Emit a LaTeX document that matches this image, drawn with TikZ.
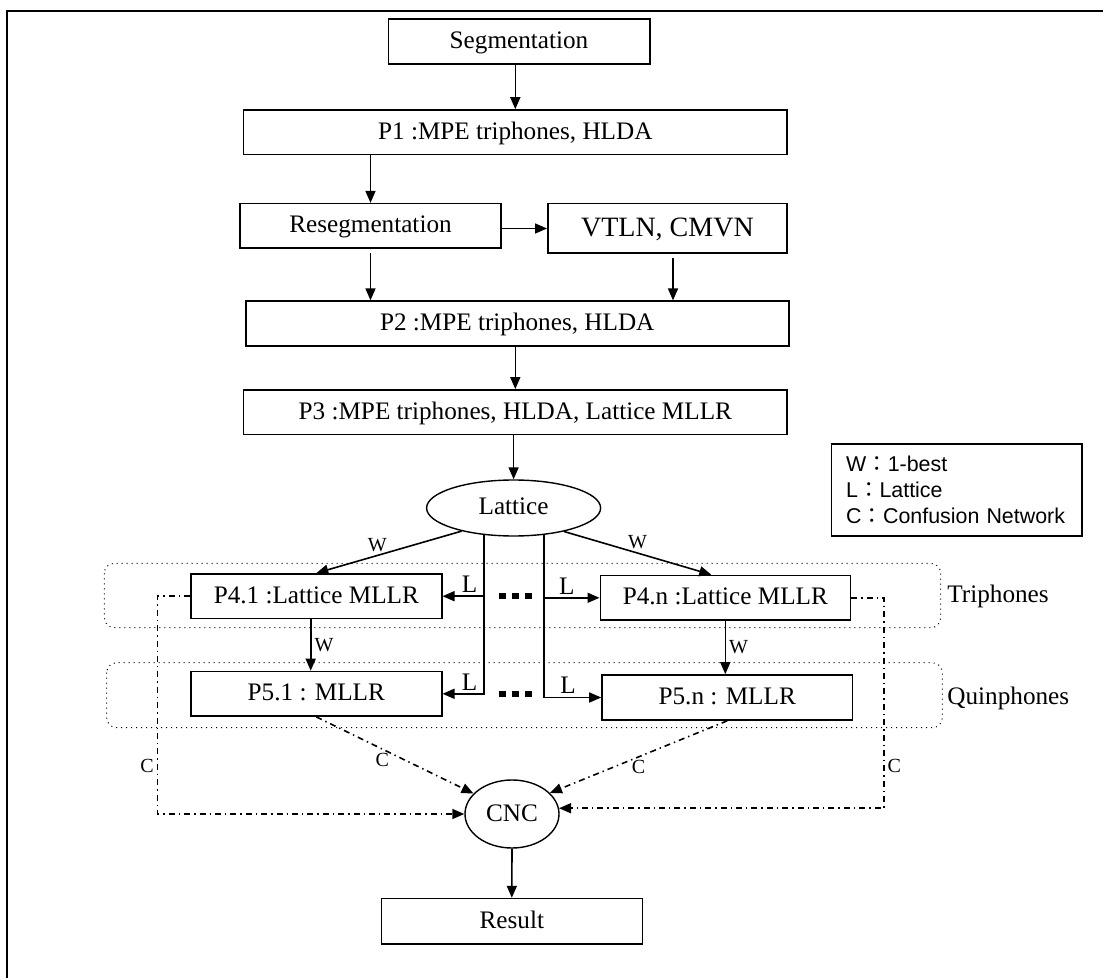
\documentclass[tikz,border=0pt]{standalone}
\usepackage{fontspec}
\setmainfont{Liberation Serif}
\setsansfont{Liberation Sans}
\newfontfamily\cjk{Noto Sans CJK TC}
\usetikzlibrary{shapes.geometric,arrows.meta}
\newcommand{\bigdots}{\rule{3.3pt}{3.3pt}\hspace{3.3pt}\rule{3.3pt}{3.3pt}\hspace{3.3pt}\rule{3.3pt}{3.3pt}}
\newcommand{\fwcolon}{{\cjk ：}}

\begin{document}
\begin{tikzpicture}[x=0.5pt,y=-0.5pt,
  >={Triangle[length=6pt,width=5pt]},
  every node/.style={font=\fontsize{12.6}{15}\selectfont},
  stage/.style={draw,line width=0.8pt,inner sep=0pt,minimum height=22.3pt,text height=8.4pt,text depth=1.4pt},
  oval/.style={draw,ellipse,line width=0.7pt,inner sep=0pt,text height=8.4pt,text depth=1.4pt},
  grp/.style={draw,dotted,rounded corners=5pt,line width=0.5pt},
  flow/.style={line width=0.8pt,->},
  cline/.style={line width=0.8pt,dash pattern=on 3pt off 2pt on 0.7pt off 2pt},
  tag/.style={font=\fontsize{10}{12}\selectfont,inner sep=1.5pt},
  lbl/.style={inner sep=1.5pt}]
\useasboundingbox (0,0) rectangle (1103,978);
\draw[line width=0.9pt] (6.7,978) -- (6.7,10.7) -- (1103,10.7);
\draw[grp] (104.3,563.3) rectangle (940.7,627.7);
\draw[grp] (106.7,662.7) rectangle (942.3,727.7);
\node (seg) [stage,minimum width=130.7pt,minimum height=22.5pt] at (519,41.8) {Segmentation};
\node (p1) [stage,minimum width=271.7pt] at (515.3,132.3) {P1 :MPE triphones, HLDA};
\node (reseg) [stage,minimum width=130.5pt] at (370.5,226) {Resegmentation};
\node (vtln) [stage,minimum width=119.6pt,minimum height=24.8pt,text height=9.4pt,font=\fontsize{14}{16}\selectfont] at (667.4,228.5) {VTLN, CMVN};
\node (p2) [stage,minimum width=271.5pt] at (517.2,323.5) {P2 :MPE triphones, HLDA};
\node (p3) [stage,minimum width=271.7pt] at (515.3,412.2) {P3 :MPE triphones, HLDA, Lattice MLLR};
\node (lat) [oval,minimum width=87pt,minimum height=28pt] at (513.6,508) {Lattice};
\node (key) [draw,line width=0.8pt,minimum width=125.2pt,minimum height=46pt,text width=110.6pt,
  inner xsep=7.3pt,inner ysep=0pt,align=left,font=\sffamily\fontsize{10.7}{13}\selectfont] at (956.8,490)
  {W\fwcolon 1-best\\L\fwcolon Lattice\\C\fwcolon Confusion Network};
\node (p41) [stage,minimum width=125.4pt] at (316.3,596.2) {P4.1 :Lattice MLLR};
\node (p4n) [stage,minimum width=125pt] at (725.3,597.8) {P4.n :Lattice MLLR};
\node (p51) [stage,minimum width=125.4pt] at (316.3,693.8) {P5.1 : MLLR};
\node (p5n) [stage,minimum width=125.2pt,minimum height=22.5pt] at (727.2,697.5) {P5.n : MLLR};
\node (dotsA) [inner sep=0pt] at (515.5,596) {\bigdots};
\node (dotsB) [inner sep=0pt] at (515.5,694) {\bigdots};
\node (tri) [anchor=west,inner sep=0pt] at (947,596) {Triphones};
\node (quin) [anchor=west,inner sep=0pt] at (947,698) {Quinphones};
\node (cnc) [oval,minimum width=47pt,minimum height=34pt] at (512,814) {CNC};
\node (res) [stage,minimum width=130.5pt,minimum height=22.7pt] at (511.8,921.3) {Result};
\coordinate (tapL) at (484,534);
\coordinate (tapR) at (544,534);
\coordinate (vd) at ([xshift=2.8pt,yshift=-2pt]vtln.south);
\coordinate (w1) at ([xshift=-2.8pt]p41.south);
\draw[flow] (seg.south -| p1.north) -- (p1.north);
\draw[flow] (p1.south -| reseg.north) -- (reseg.north);
\draw[flow] (reseg.east |- vtln.west) -- (vtln.west);
\draw[flow] ([yshift=-2pt]reseg.south) -- (reseg.south |- p2.north);
\draw[flow] (vd) -- (vd |- p2.north);
\draw[flow] (p3.north |- p2.south) -- (p3.north);
\draw[flow] (lat.north |- p3.south) -- (lat.north);
\draw[flow] (lat.204) -- node[tag,pos=0.58,above]{W} (p41.north);
\draw[flow] (lat.335) -- node[tag,pos=0.5,above]{W} ([xshift=-7pt]p4n.north);
\draw[flow] (tapL |- p41.east) -- node[lbl,pos=0.35,above]{L} (p41.east);
\draw[flow] (tapL) |- node[lbl,pos=0.675,above]{L} (p51.east);
\draw[flow] (tapR |- p4n.west) -- node[lbl,pos=0.41,above]{L} (p4n.west);
\draw[flow] (tapR) |- node[lbl,pos=0.71,above]{L} (p5n.west);
\draw[flow] (w1) -- node[tag,right]{W} (w1 |- p51.north);
\draw[flow] (p4n.south) -- node[tag,right]{W} (p4n.south |- p5n.north);
\draw[cline,->] (p41.west) -- ++(-32.7,0) |- node[tag,pos=0.39,left]{C} (cnc.west);
\draw[cline,->] (p4n.east) -- ++(32.7,0) |- node[tag,pos=0.4,right]{C} (cnc.7);
\draw[cline,->] (p51.south) -- node[tag,pos=0.42,below]{C} (cnc.152);
\draw[cline,->] (p5n.south) -- node[tag,pos=0.5,below]{C} (cnc.29);
\draw[flow] (cnc.south) -- (res.north);
\end{tikzpicture}
\end{document}
